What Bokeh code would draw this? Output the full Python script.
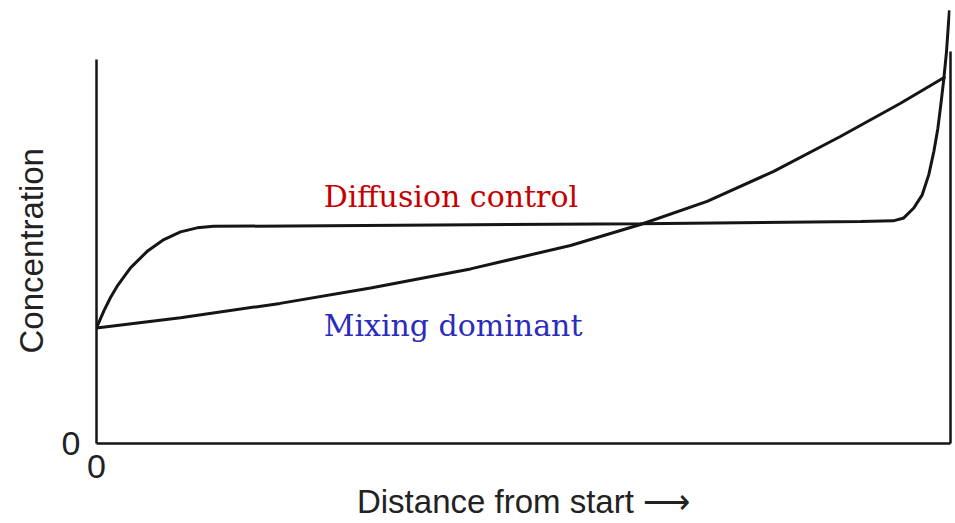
from bokeh.plotting import figure
from bokeh.models import FixedTicker, LinearAxis, Label, Range1d, Title
from bokeh.embed import file_html
from bokeh.resources import INLINE

# ---- data (distance 0..100, concentration in relative units) ----
diff_x = [0, 0.85, 1.64, 2.42, 3.98, 5.94, 7.89, 9.84, 11.79, 13.7, 35.6, 63.7, 89.5,
          93.3, 94.53, 95.70, 96.69, 97.46, 98.05, 98.52, 98.91, 99.22, 99.53, 99.80, 99.88]
diff_y = [31.5, 36.1, 39.8, 42.9, 47.9, 52.4, 55.6, 57.7, 58.8, 59.2, 59.5, 59.9, 60.5,
          60.7, 61.5, 64.2, 67.8, 73.3, 79.6, 85.9, 93.2, 99.5, 106.8, 115.8, 118.1]

mix_x = [0, 9.84, 21.5, 32.1, 43.8, 55.5, 63.7, 71.5, 79.3, 87.1, 94.1, 99.4]
mix_y = [31.5, 34.3, 38.2, 42.4, 47.6, 54.0, 59.7, 66.0, 74.2, 83.7, 92.7, 100.0]

x_ticks = [0]
y_ticks = [0]
tick_labels = {0: "0"}
left_axis_top = 104.6
right_edge_top = 106.8

x_title = "Distance from start \u27f6"
y_title = "Concentration"
labels = ["Diffusion control", "Mixing dominant"]
label_colors = ["#c60000", "#2c2cbc"]

LINE = "#151515"
TEXT = "#222222"
sans = "Liberation Sans"

p = figure(width=955, height=523, output_backend="svg", toolbar_location=None,
           x_range=Range1d(0, 100), y_range=Range1d(0, 118.6),
           min_border_left=96, min_border_right=5, min_border_top=8, min_border_bottom=80)
p.outline_line_color = None
p.xgrid.visible = False
p.ygrid.visible = False
p.background_fill_color = "white"
p.border_fill_color = "white"

p.line(diff_x, diff_y, line_color=LINE, line_width=3)
p.line(mix_x, mix_y, line_color=LINE, line_width=3)

for ax in (p.xaxis[0], p.yaxis[0]):
    ax.major_tick_out = 0
    ax.major_tick_in = 0
    ax.minor_tick_out = 0
    ax.minor_tick_in = 0
    ax.axis_line_color = LINE
    ax.axis_line_width = 2.5
    ax.major_label_text_font = sans
    ax.major_label_text_font_size = "34px"
    ax.major_label_text_color = TEXT
    ax.major_label_overrides = tick_labels

p.xaxis.ticker = FixedTicker(ticks=x_ticks)
p.yaxis.ticker = FixedTicker(ticks=y_ticks)
p.yaxis.bounds = (0, left_axis_top)
p.yaxis.major_label_standoff = 16
p.xaxis.major_label_standoff = 11
p.xaxis.axis_label = x_title
p.xaxis.axis_label_text_font = sans
p.xaxis.axis_label_text_font_size = "33px"
p.xaxis.axis_label_text_font_style = "normal"
p.xaxis.axis_label_text_color = TEXT
p.xaxis.axis_label_standoff = 2

right = LinearAxis(bounds=(0, right_edge_top), ticker=FixedTicker(ticks=[]),
                   major_tick_out=0, major_tick_in=0, minor_tick_out=0, minor_tick_in=0,
                   major_label_text_font_size="0px", axis_line_color=LINE, axis_line_width=2.5)
p.add_layout(right, "right")

# y-axis title (rotated) placed on the left side
p.add_layout(Title(text=y_title, align="left", offset=90, text_font=sans,
                   text_font_size="33px", text_font_style="normal", text_color=TEXT,
                   standoff=18), "left")

serif = "DejaVu Serif"
p.add_layout(Label(x=26.6, y=67.4, text=labels[0], text_font=serif, text_font_size="30px",
                   text_color=label_colors[0], text_align="left", text_baseline="alphabetic"))
p.add_layout(Label(x=26.6, y=32.3, text=labels[1], text_font=serif, text_font_size="30px",
                   text_color=label_colors[1], text_align="left", text_baseline="alphabetic"))

open("out.html", "w").write(file_html(p, INLINE))
